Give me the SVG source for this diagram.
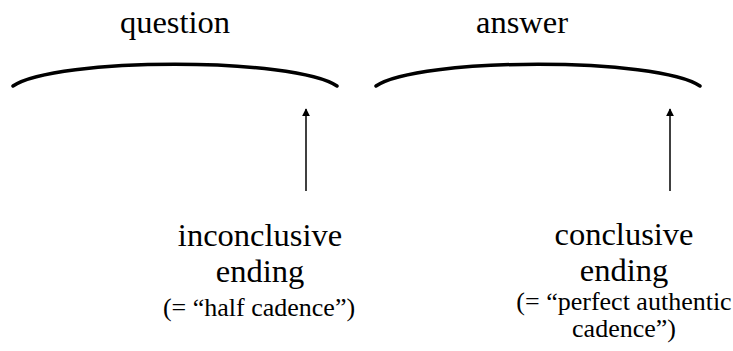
<svg xmlns="http://www.w3.org/2000/svg" width="733" height="351" viewBox="0 0 733 351">
<defs>
<style>
.t{font-family:"Liberation Serif","Times New Roman",serif;fill:#000;text-anchor:middle}
.big{font-size:32.5px}
.sm{font-size:26px}
.arc{fill:none;stroke:#000;stroke-width:3.5;stroke-linecap:round}
.ln{stroke:#000;stroke-width:1.5;fill:none}
</style>
<marker id="ah" viewBox="0 0 10 10" refX="9" refY="5" markerWidth="8" markerHeight="8" markerUnits="userSpaceOnUse" orient="auto">
<path d="M0,0 L10,5 L0,10 z" fill="#000"/>
</marker>
</defs>
<rect width="733" height="351" fill="#fff"/>
<g id="question">
<text class="t big" x="175" y="33">question</text>
<path class="arc" d="M13,86 C55,57 295,57 337,86"/>
</g>
<g id="answer">
<text class="t big" x="522" y="33">answer</text>
<path class="arc" d="M376,86 C418,57 658,57 700,86"/>
</g>
<g id="inconclusive">
<text class="t big" x="260" y="246">inconclusive</text>
<text class="t big" x="260" y="282">ending</text>
<text class="t sm" x="259" y="316">(= “half cadence”)</text>
</g>
<g id="conclusive">
<text class="t big" x="624" y="245">conclusive</text>
<text class="t big" x="624" y="281">ending</text>
<text class="t sm" x="624" y="310">(= “perfect authentic</text>
<text class="t sm" x="624" y="337">cadence”)</text>
</g>
<g id="connectors">
<line class="ln" x1="306" y1="191" x2="306" y2="109" marker-end="url(#ah)"/>
<line class="ln" x1="670" y1="191" x2="670" y2="109" marker-end="url(#ah)"/>
</g>
</svg>
